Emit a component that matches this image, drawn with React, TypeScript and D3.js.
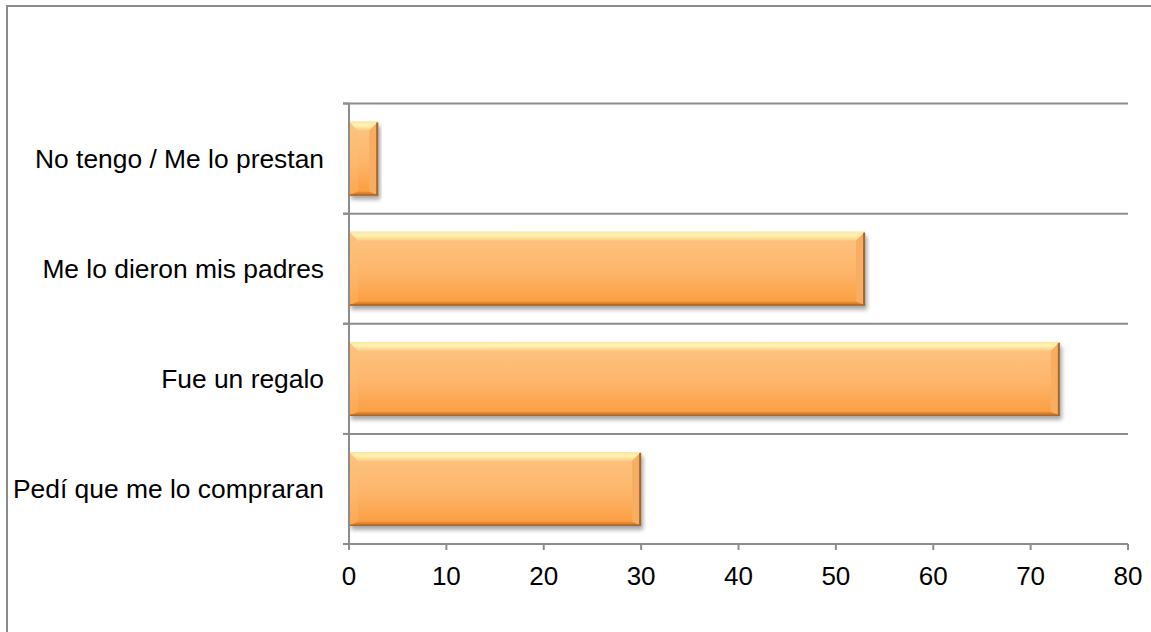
import React from "react";
import * as d3 from "d3";

const categories = [
  "No tengo / Me lo prestan",
  "Me lo dieron mis padres",
  "Fue un regalo",
  "Pedí que me lo compraran",
];
const values = [3, 53, 73, 30];
const xTicks = [0, 10, 20, 30, 40, 50, 60, 70, 80];

const W = 1151;
const H = 632;
const FONT = "Arial, 'Liberation Sans', sans-serif";

export default function App() {
  const x = d3.scaleLinear().domain([0, 80]).range([349, 1128]);
  const y = d3
    .scaleBand<string>()
    .domain(categories)
    .range([103.5, 544])
    .paddingInner(0.33)
    .paddingOuter(0.165);
  const step = y.step();
  const bounds = d3.range(categories.length + 1).map((i) => 103.5 + i * step);
  const grid = "#8c8c8c";

  return (
    <svg
      width={W}
      height={H}
      style={{ position: "absolute", left: 0, top: 0, background: "#fff" }}
      fontFamily={FONT}
    >
      <defs>
        <linearGradient id="body" x1="0" y1="0" x2="0" y2="1">
          <stop offset="0" stopColor="#fdc584" />
          <stop offset="0.55" stopColor="#fdb56a" />
          <stop offset="1" stopColor="#fb9c3e" />
        </linearGradient>
        <linearGradient id="topFacet" x1="0" y1="0" x2="0" y2="1">
          <stop offset="0" stopColor="#fee3a0" />
          <stop offset="0.4" stopColor="#fff4b4" />
          <stop offset="1" stopColor="#fdca85" />
        </linearGradient>
        <linearGradient id="bottomFacet" x1="0" y1="0" x2="0" y2="1">
          <stop offset="0" stopColor="#f5902f" />
          <stop offset="1" stopColor="#b9712c" />
        </linearGradient>
        <filter id="shadow" x="-5%" y="-20%" width="110%" height="150%">
          <feGaussianBlur stdDeviation="2.2" />
        </filter>
      </defs>

      {/* outer frame */}
      <rect x={7} y={6} width={W + 10} height={H + 10} fill="none" stroke="#8a8a8a" strokeWidth={2} />

      {/* horizontal gridlines */}
      {bounds.slice(0, -1).map((b, i) => (
        <line key={"g" + i} x1={343} x2={x(80)} y1={b} y2={b} stroke={grid} strokeWidth={2} />
      ))}

      {/* bars */}
      {categories.map((c, i) => {
        const x0 = x(0);
        const x1 = x(values[i]);
        const w = x1 - x0;
        const y0 = y(c)!;
        const h = y.bandwidth();
        const b = Math.min(9, w / 2 - 1);
        const bb = 4;
        return (
          <g key={c}>
            <rect x={x0 + 2} y={y0 + 4} width={w} height={h} fill="#000" opacity={0.35} filter="url(#shadow)" />
            <rect x={x0} y={y0} width={w} height={h} fill="url(#body)" />
            {/* bevel facets */}
            <polygon
              points={`${x0},${y0} ${x1},${y0} ${x1 - b},${y0 + b} ${x0 + b},${y0 + b}`}
              fill="url(#topFacet)"
            />
            <polygon
              points={`${x0},${y0} ${x0 + b},${y0 + b} ${x0 + b},${y0 + h - bb} ${x0},${y0 + h}`}
              fill="#fdc07a"
              opacity={0.3}
            />
            <polygon
              points={`${x1},${y0} ${x1 - b},${y0 + b} ${x1 - b},${y0 + h - bb} ${x1},${y0 + h}`}
              fill="#f9ad60"
            />
            <polygon
              points={`${x0},${y0 + h} ${x1},${y0 + h} ${x1 - b},${y0 + h - bb} ${x0 + b},${y0 + h - bb}`}
              fill="url(#bottomFacet)"
            />
            <line x1={x1 - 1} x2={x1 - 1} y1={y0 + 1} y2={y0 + h} stroke="#a2652a" strokeWidth={2} />
            <line x1={x0} x2={x1} y1={y0 + h - 0.5} y2={y0 + h - 0.5} stroke="#a8692c" strokeWidth={1.5} />
          </g>
        );
      })}

      {/* value axis */}
      <line x1={x(0)} x2={x(80)} y1={544} y2={544} stroke={grid} strokeWidth={2} />
      {xTicks.map((t) => (
        <g key={"t" + t}>
          <line x1={x(t)} x2={x(t)} y1={544} y2={550} stroke={grid} strokeWidth={2} />
          <text x={x(t)} y={585} textAnchor="middle" fontSize={26} fill="#000">
            {t}
          </text>
        </g>
      ))}

      {/* category axis */}
      <line x1={x(0)} x2={x(0)} y1={bounds[0]} y2={550} stroke={grid} strokeWidth={2} />
      {bounds.map((b, i) => (
        <line key={"ct" + i} x1={343} x2={x(0)} y1={b} y2={b} stroke={grid} strokeWidth={2} />
      ))}
      {categories.map((c) => (
        <text
          key={"l" + c}
          x={324}
          y={y(c)! + y.bandwidth() / 2}
          dy="0.36em"
          textAnchor="end"
          fontSize={26.4}
          fill="#000"
        >
          {c}
        </text>
      ))}
    </svg>
  );
}
